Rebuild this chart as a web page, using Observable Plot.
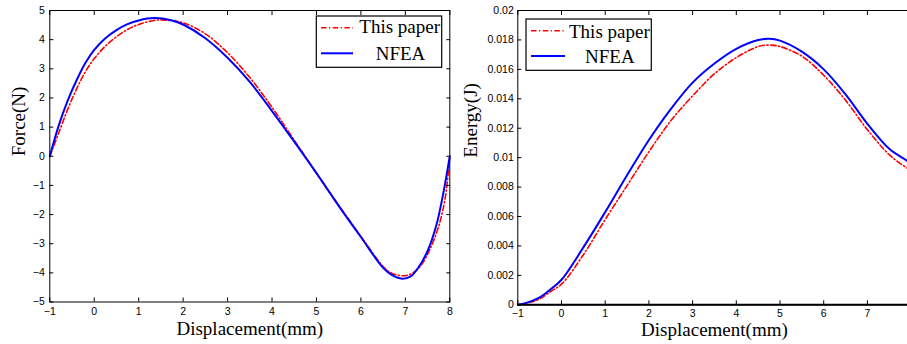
<!DOCTYPE html>
<html><head><meta charset="utf-8">
<script src="https://cdn.jsdelivr.net/npm/d3@7"></script>
<script src="https://cdn.jsdelivr.net/npm/@observablehq/plot@0.6"></script>
<style>
html,body{margin:0;padding:0;background:#fff;}
#wrap{position:relative;width:907px;height:344px;overflow:hidden;background:#fff;}
#left{position:absolute;left:0;top:0;width:452px;height:344px;}
#right{position:absolute;left:450px;top:0;width:470px;height:344px;}
#wrap svg{max-width:none !important;}
</style></head><body><div id="wrap"><div id="right"></div><div id="left"></div></div>
<script>
// ---- Left panel: Force vs displacement ----
const forceNfeaX = [-1,-0.8,-0.6,-0.4,-0.2,0,0.25,0.5,0.75,1,1.35,1.75,2,2.5,3,3.5,4,4.5,5,5.5,6,6.5,6.7,6.93,7.12,7.3,7.5,7.7,7.85,8];
const forceNfea  = [0,1.05,1.9,2.6,3.2,3.65,4.05,4.33,4.53,4.66,4.74,4.66,4.52,4.05,3.38,2.55,1.55,0.5,-0.58,-1.7,-2.77,-3.83,-4.08,-4.2,-4.12,-3.8,-3.25,-2.35,-1.3,0];
const forcePaperX = [-1,-0.8,-0.6,-0.4,-0.2,0,0.25,0.5,0.75,1,1.4,1.75,2,2.5,3,3.5,4,4.5,5,5.5,6,6.5,6.7,6.95,7.15,7.35,7.55,7.75,7.9,8];
const forcePaper  = [0,0.8,1.6,2.3,2.9,3.35,3.78,4.1,4.35,4.52,4.67,4.65,4.58,4.2,3.55,2.7,1.68,0.55,-0.58,-1.68,-2.75,-3.78,-4.02,-4.1,-4.02,-3.75,-3.2,-2.4,-1.4,0];
const forceXTicks = [-1,0,1,2,3,4,5,6,7,8];
const forceYTicks = [-5,-4,-3,-2,-1,0,1,2,3,4,5];

// ---- Right panel: Energy vs displacement ----
const energyX     = [-1,-0.75,-0.5,-0.25,0,0.5,1,1.5,2,2.5,3,3.5,4,4.5,4.75,5,5.5,6,6.5,7,7.5,7.9,8];
const energyNfea  = [0,0.00018,0.0005,0.00105,0.0017,0.0039,0.0063,0.0088,0.0112,0.0133,0.0151,0.0164,0.0174,0.0180,0.01808,0.01795,0.0172,0.0160,0.0143,0.0123,0.0106,0.0098,0.0096];
const energyPaper = [0,0.00015,0.0004,0.0009,0.0014,0.0034,0.0058,0.0081,0.0104,0.0125,0.0142,0.0157,0.0168,0.01755,0.01765,0.01755,0.0169,0.0156,0.0139,0.0119,0.0102,0.0093,0.0091];
const energyXTicks = [-1,0,1,2,3,4,5,6,7,8];
const energyXTickLabels = [-1,0,1,2,3,4,5,6,7];
const energyYTicks = [0,0.002,0.004,0.006,0.008,0.01,0.012,0.014,0.016,0.018,0.02];

const seriesNames = ["This paper","NFEA"];
const redColor = "#ff0000", blueColor = "#0000ff";
const redDash = "5.5,2.5,1.2,2.5";

const tickFont = "Liberation Sans, Arial, sans-serif";
const serif = "Liberation Serif, Times New Roman, serif";

function toRows(xs, ys){ return xs.map((x,i)=>({x, y: ys[i]})); }

function panel(o){
  const marks = [
    Plot.line(o.paper, {x:"x", y:"y", stroke: redColor, strokeWidth:1.6, strokeDasharray: redDash, curve:"catmull-rom"}),
    Plot.line(o.nfea, {x:"x", y:"y", stroke: blueColor, strokeWidth:2, curve:"catmull-rom"}),
    Plot.frame({stroke:"#000", strokeWidth:1}),
    Plot.axisX(o.xTicks, {anchor:"bottom", tickSize:-4, tickFormat:()=>"", label:null, stroke:"#000"}),
    Plot.axisX(o.xTicks, {anchor:"top", tickSize:-4, tickFormat:()=>"", label:null, stroke:"#000"}),
    Plot.axisY(o.yTicks, {anchor:"left", tickSize:-4, tickFormat:()=>"", label:null, stroke:"#000"}),
    Plot.axisY(o.yTicks, {anchor:"right", tickSize:-4, tickFormat:()=>"", label:null, stroke:"#000"}),
    Plot.axisX(o.xTickLabels, {anchor:"bottom", tickSize:0, tickPadding:o.xPad, label:null, fontFamily: tickFont, fontSize:10.5, fill:"#000"}),
    Plot.axisY(o.yTicks, {anchor:"left", tickSize:0, tickPadding:o.yPad, label:null, tickFormat:o.yFormat, fontFamily: tickFont, fontSize:10.5, fill:"#000"}),
    Plot.text([o.xLabel], {frameAnchor:"bottom", dy:o.xLabelDy, fontFamily: serif, fontSize:19, fill:"#000"}),
    Plot.text([o.yLabel], {frameAnchor:"left", rotate:-90, dx:o.yLabelDx, fontFamily: serif, fontSize:19, fill:"#000"})
  ];
  if (o.extra) marks.push(...o.extra);
  return Plot.plot({
    width:o.width, height:344,
    marginLeft:o.ml, marginRight:o.mr, marginTop:o.mt, marginBottom:o.mb,
    x:{domain:o.xDomain},
    y:{domain:o.yDomain},
    style:{background:"#fff", overflow:"visible", maxWidth:"none"},
    marks
  });
}

function legend(svg, L){
  const g = d3.select(svg).append("g").attr("text-anchor","start");
  g.append("rect").attr("x",L.x).attr("y",L.y).attr("width",L.w).attr("height",L.h)
    .attr("fill","#fff").attr("stroke","#000").attr("stroke-width",1.2);
  const styles = [
    {stroke:redColor, width:1.6, dash:redDash},
    {stroke:blueColor, width:2, dash:null}
  ];
  L.rows.forEach((r,i)=>{
    const s = styles[i];
    const ln = g.append("line").attr("x1",L.lx1).attr("x2",L.lx2).attr("y1",r.ly).attr("y2",r.ly)
      .attr("stroke",s.stroke).attr("stroke-width",s.width);
    if (s.dash) ln.attr("stroke-dasharray", s.dash);
    g.append("text").attr("x",r.tx).attr("y",r.ty).attr("text-anchor","start")
      .attr("font-family",serif).attr("font-size",19)
      .attr("fill","#000").text(seriesNames[i]);
  });
}

const left = panel({
  paper: toRows(forcePaperX, forcePaper), nfea: toRows(forceNfeaX, forceNfea),
  xTicks: forceXTicks, xTickLabels: forceXTicks, yTicks: forceYTicks, xDomain:[-1,8], yDomain:[-5,5],
  width:452, ml:49.3, mr:2.7, mt:10, mb:42.5, xPad:5.5, yPad:5,
  yFormat: d3.format(""), xLabel:"Displacement(mm)", yLabel:"Force(N)", xLabelDy:32.5, yLabelDx:-31
});
legend(left, {x:316.3, y:16, w:125.4, h:51.3, lx1:321, lx2:353,
  rows:[{ly:27.7, tx:359.3, ty:33.4},{ly:53.3, tx:375.7, ty:60.2}]});
document.getElementById("left").appendChild(left);

const right = panel({
  paper: toRows(energyX, energyPaper), nfea: toRows(energyX, energyNfea),
  xTicks: energyXTicks, xTickLabels: energyXTickLabels, yTicks: energyYTicks, xDomain:[-1,8], yDomain:[0,0.02],
  width:470, ml:67.3, mr:9.4, mt:10, mb:39.7, xPad:4.5, yPad:4,
  yFormat: d => String(+d.toFixed(3)), xLabel:"Displacement(mm)", yLabel:"Energy(J)", xLabelDy:30.7, yLabelDx:-46.6,
  extra:[Plot.ruleY([0], {stroke:"#000", strokeWidth:2})]
});
legend(right, {x:76, y:19, w:125.3, h:51.3, lx1:81, lx2:115,
  rows:[{ly:30.7, tx:119, ty:37.5},{ly:56, tx:135, ty:62.5}]});
document.getElementById("right").appendChild(right);
</script></body></html>
